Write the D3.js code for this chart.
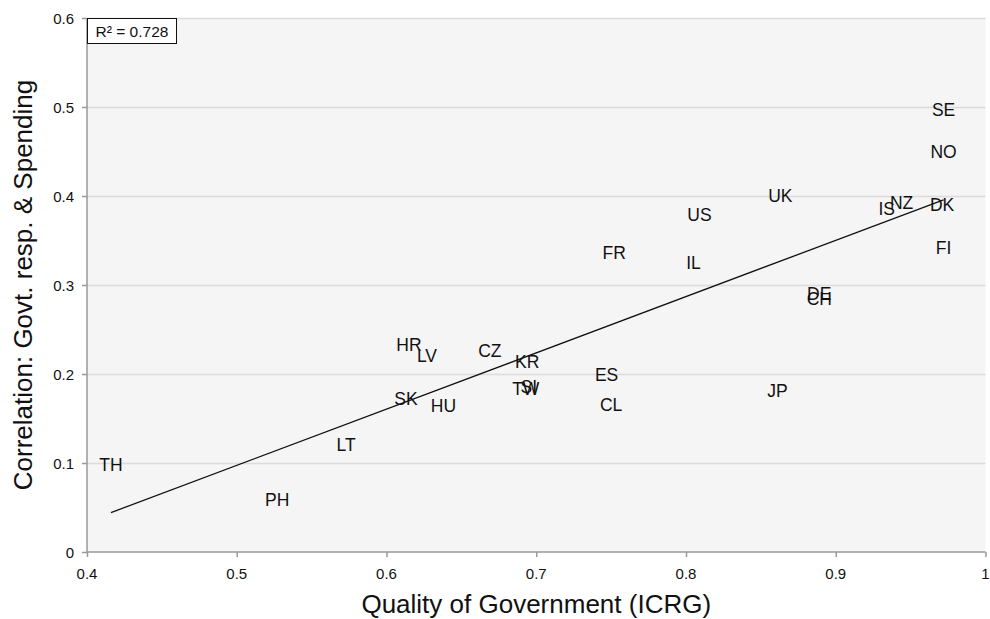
<!DOCTYPE html>
<html>
<head>
<meta charset="utf-8">
<script src="https://cdn.jsdelivr.net/npm/d3@7"></script>
<style>
  body { margin: 0; background: #fff; }
  svg, svg text { font-family: "Liberation Sans", Arial, sans-serif; }
</style>
</head>
<body>
<script>
// Data
const countries = ["SE", "NO", "UK", "US", "IS", "NZ", "DK", "FI", "FR", "IL", "DE", "CH",
  "HR", "LV", "CZ", "KR", "ES", "TW", "SI", "SK", "HU", "CL", "JP", "LT", "TH", "PH"];
const qog = [0.972, 0.972, 0.863, 0.809, 0.934, 0.944, 0.971, 0.972, 0.752, 0.805, 0.889, 0.889,
  0.615, 0.627, 0.669, 0.694, 0.747, 0.693, 0.695, 0.613, 0.638, 0.750, 0.861, 0.573, 0.416, 0.527];
const corr = [0.497, 0.449, 0.400, 0.379, 0.385, 0.392, 0.390, 0.342, 0.336, 0.325, 0.290, 0.284,
  0.233, 0.220, 0.226, 0.213, 0.199, 0.183, 0.185, 0.172, 0.164, 0.165, 0.181, 0.120, 0.098, 0.058];
const xTicks = [0.4, 0.5, 0.6, 0.7, 0.8, 0.9, 1];
const yTicks = [0, 0.1, 0.2, 0.3, 0.4, 0.5, 0.6];
const r2Label = "R² = 0.728";

const w = 990;
const h = 619;
const margin = { top: 18, right: 4, bottom: 67, left: 87 };

const svg = d3.select("body").append("svg").attr("width", w).attr("height", h);

const x = d3.scaleLinear().domain([0.4, 1]).range([margin.left, w - margin.right - 0.5]);
const y = d3.scaleLinear().domain([0, 0.6]).range([h - margin.bottom, margin.top]);

const fmt = (d) => (d === 0 || d === 1 ? String(d) : d3.format(".1f")(d));

// plot background
svg.append("rect")
  .attr("x", x(0.4)).attr("y", y(0.6))
  .attr("width", x(1) - x(0.4)).attr("height", y(0) - y(0.6))
  .attr("fill", "#f5f5f5");

// gridlines
svg.append("g").selectAll("line")
  .data(yTicks.filter((d) => d > 0))
  .join("line")
  .attr("x1", x(0.4)).attr("x2", x(1))
  .attr("y1", (d) => Math.round(y(d)) + 0.5).attr("y2", (d) => Math.round(y(d)) + 0.5)
  .attr("stroke", "#dcdcdc").attr("stroke-width", 1.5);

// axes (lines and ticks from d3, labels drawn below)
const xAxis = d3.axisBottom(x).tickValues(xTicks).tickSize(5).tickFormat("");
const yAxis = d3.axisLeft(y).tickValues(yTicks).tickSize(5).tickFormat("");

const gx = svg.append("g")
  .attr("transform", "translate(0," + y(0) + ")")
  .call(xAxis);
const gy = svg.append("g")
  .attr("transform", "translate(" + x(0.4) + ",0)")
  .call(yAxis);

[gx, gy].forEach((g) => {
  g.select(".domain").attr("stroke", "#999").attr("stroke-width", 1.5);
  g.selectAll(".tick line").attr("stroke", "#999").attr("stroke-width", 1.5);
});
gy.select(".domain").attr("d", "M0," + y(0.6) + "V" + y(0));
gx.select(".domain").attr("d", "M" + x(0.4) + ",0H" + x(1));

svg.append("g").selectAll("text")
  .data(xTicks)
  .join("text")
  .attr("x", (d) => x(d))
  .attr("y", y(0) + 21)
  .attr("text-anchor", "middle")
  .attr("dominant-baseline", "central")
  .attr("fill", "#111")
  .style("font-size", "15px")
  .text(fmt);

svg.append("g").selectAll("text")
  .data(yTicks)
  .join("text")
  .attr("x", x(0.4) - 13)
  .attr("y", (d) => y(d))
  .attr("text-anchor", "end")
  .attr("dominant-baseline", "central")
  .attr("fill", "#111")
  .style("font-size", "15px")
  .text(fmt);

// linear trendline (least squares)
const n = qog.length;
const mx = d3.mean(qog);
const my = d3.mean(corr);
let sxy = 0, sxx = 0;
for (let i = 0; i < n; i++) {
  sxy += (qog[i] - mx) * (corr[i] - my);
  sxx += (qog[i] - mx) * (qog[i] - mx);
}
const slope = sxy / sxx;
const intercept = my - slope * mx;
const xMin = d3.min(qog);
const xMax = d3.max(qog);

svg.append("line")
  .attr("x1", x(xMin)).attr("y1", y(intercept + slope * xMin))
  .attr("x2", x(xMax)).attr("y2", y(intercept + slope * xMax))
  .attr("stroke", "#111").attr("stroke-width", 1.3);

// country labels
svg.append("g").selectAll("text")
  .data(countries)
  .join("text")
  .attr("x", (d, i) => x(qog[i]))
  .attr("y", (d, i) => y(corr[i]))
  .attr("text-anchor", "middle")
  .attr("dominant-baseline", "central")
  .style("font-size", "17.5px")
  .attr("fill", "#111")
  .text((d) => d);

// R² box
const r2 = svg.append("g").attr("transform", "translate(" + x(0.4) + "," + y(0.6) + ")");
r2.append("rect")
  .attr("x", 0.5).attr("y", 0.5)
  .attr("width", 89).attr("height", 25)
  .attr("fill", "#fff").attr("stroke", "#111").attr("stroke-width", 1);
r2.append("text")
  .attr("x", 45).attr("y", 13)
  .attr("text-anchor", "middle").attr("dominant-baseline", "central")
  .style("font-size", "15.5px").attr("fill", "#111")
  .text(r2Label);

// axis titles
svg.append("text")
  .attr("x", (x(0.4) + x(1)) / 2).attr("y", 604)
  .attr("text-anchor", "middle").attr("dominant-baseline", "central")
  .style("font-size", "26px").attr("fill", "#111")
  .text("Quality of Government (ICRG)");

svg.append("text")
  .attr("transform", "translate(23," + (y(0) + y(0.6)) / 2 + ") rotate(-90)")
  .attr("text-anchor", "middle").attr("dominant-baseline", "central")
  .style("font-size", "26px").attr("fill", "#111")
  .text("Correlation: Govt. resp. & Spending");
</script>
</body>
</html>
